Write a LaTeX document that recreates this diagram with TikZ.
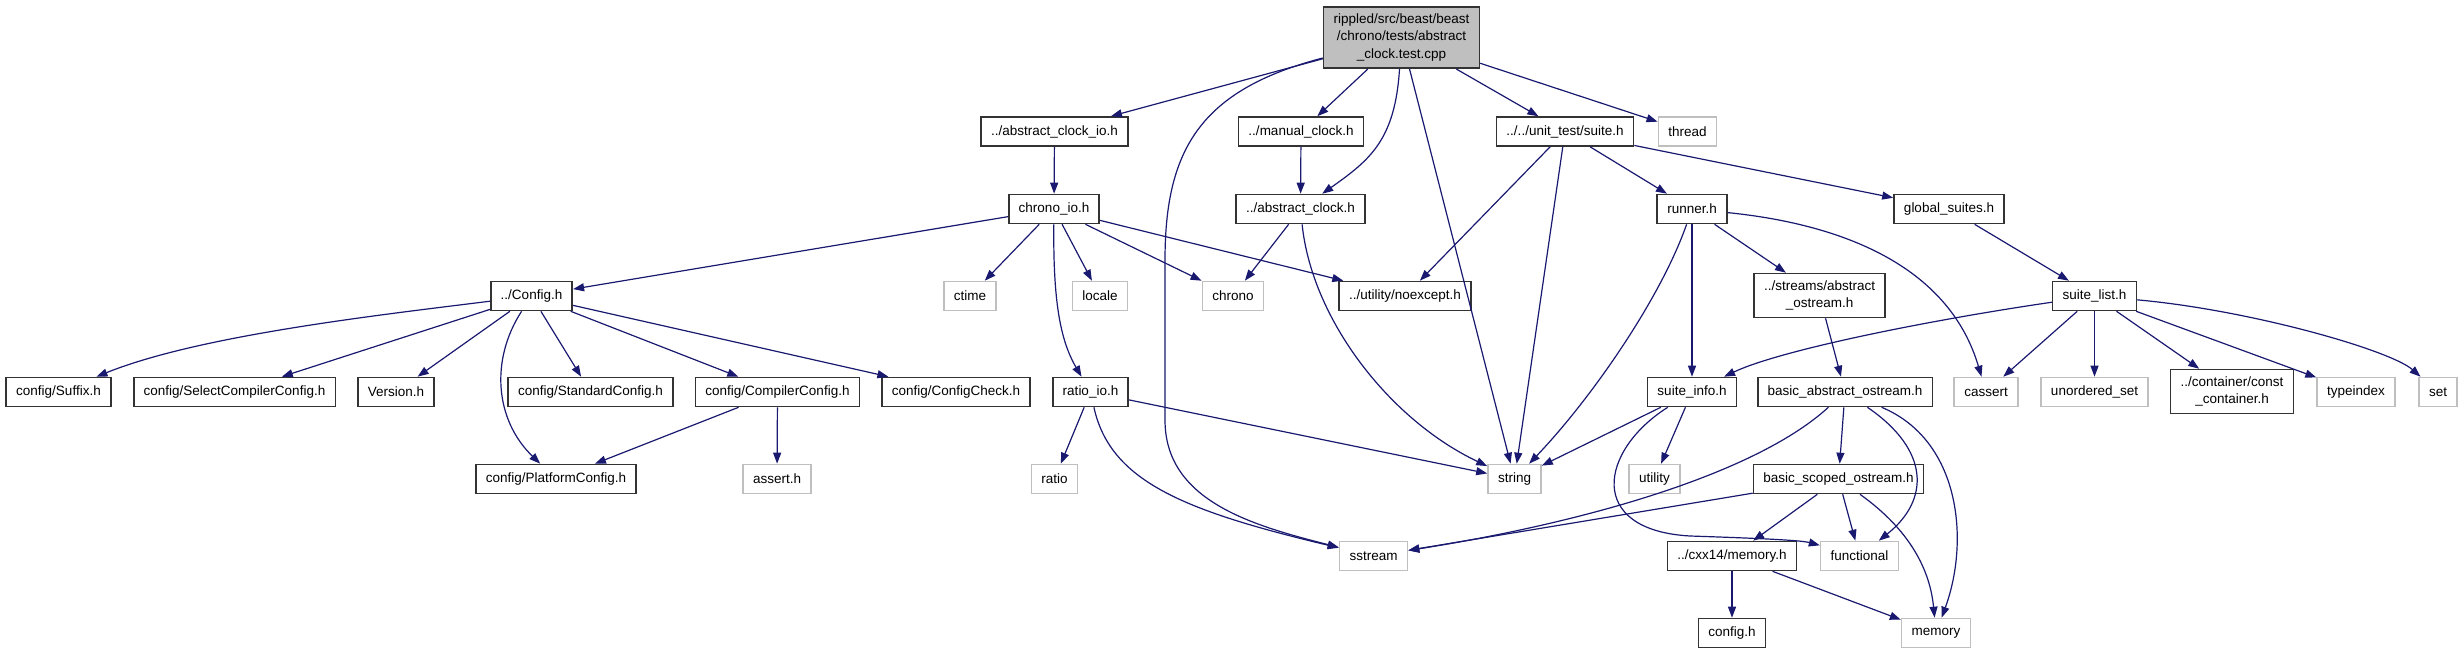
\documentclass[tikz,border=0pt]{standalone}
\usepackage{fontspec}
\setmainfont{Liberation Sans}
\usetikzlibrary{arrows.meta}
\definecolor{edgeblue}{HTML}{191970}
\definecolor{boxgray}{HTML}{BFBFBF}
\begin{document}
\begin{tikzpicture}[x=1pt,y=-1pt,>={Triangle[length=11pt,width=8pt]},
	font=\fontsize{13.5}{17.5}\selectfont,
	incl/.style={draw=black!80,line width=1.6pt,fill=white,inner xsep=10pt,inner ysep=7pt,minimum height=29pt,align=center},
	sysincl/.style={incl,draw=boxgray},
	srcfile/.style={incl,fill=boxgray},
	dep/.style={->,draw=edgeblue,line width=1.2pt}]
	\useasboundingbox (0,0) rectangle (2464,653);
	\node[srcfile] (main) at (1401.5,37.5) {rippled/src/beast/beast\\/chrono/tests/abstract\\\_clock.test.cpp};
	\node[incl] (aclockio) at (1054.5,131.5) {../abstract\_clock\_io.h};
	\node[incl] (manclock) at (1301,131.5) {../manual\_clock.h};
	\node[incl] (suite) at (1565,131.5) {../../unit\_test/suite.h};
	\node[sysincl] (thread) at (1687.5,131.5) {thread};
	\node[incl] (chronoio) at (1054,209) {chrono\_io.h};
	\node[incl] (aclock) at (1300.5,209) {../abstract\_clock.h};
	\node[incl] (runner) at (1692,209) {runner.h};
	\node[incl] (gsuites) at (1949,209) {global\_suites.h};
	\node[incl] (config) at (531.5,296) {../Config.h};
	\node[sysincl] (ctime) at (970,296) {ctime};
	\node[sysincl] (locale) at (1100,296) {locale};
	\node[sysincl] (chrono) at (1233,296) {chrono};
	\node[incl] (noexcept) at (1405,296) {../utility/noexcept.h};
	\node[incl] (aostream) at (1819.5,295.5) {../streams/abstract\\\_ostream.h};
	\node[incl] (suitelist) at (2094.5,296) {suite\_list.h};
	\node[incl] (suffix) at (58.5,392) {config/Suffix.h};
	\node[incl] (selcc) at (234.5,392) {config/SelectCompilerConfig.h};
	\node[incl] (version) at (396,392) {Version.h};
	\node[incl] (stdcfg) at (590.5,392) {config/StandardConfig.h};
	\node[incl] (compcfg) at (777.5,392) {config/CompilerConfig.h};
	\node[incl] (cfgcheck) at (956,392) {config/ConfigCheck.h};
	\node[incl] (ratioio) at (1090.5,392) {ratio\_io.h};
	\node[incl] (suiteinfo) at (1692,392) {suite\_info.h};
	\node[incl] (baostream) at (1845,392) {basic\_abstract\_ostream.h};
	\node[sysincl] (cassert) at (1986,392) {cassert};
	\node[sysincl] (uset) at (2094.5,392) {unordered\_set};
	\node[incl] (constc) at (2232,391.5) {../container/const\\\_container.h};
	\node[sysincl] (typeindex) at (2356,392) {typeindex};
	\node[sysincl] (hset) at (2438,392) {set};
	\node[incl] (platcfg) at (556,479) {config/PlatformConfig.h};
	\node[sysincl] (asserth) at (777,479) {assert.h};
	\node[sysincl] (ratio) at (1054.5,479) {ratio};
	\node[sysincl] (strh) at (1514.5,479) {string};
	\node[sysincl] (utility) at (1654.5,479) {utility};
	\node[incl] (bsostream) at (1838.5,479) {basic\_scoped\_ostream.h};
	\node[sysincl] (sstream) at (1373.5,556) {sstream};
	\node[incl] (cxxmem) at (1732,556) {../cxx14/memory.h};
	\node[sysincl] (functional) at (1859.5,556) {functional};
	\node[incl] (configh) at (1732,633) {config.h};
	\node[sysincl] (memory) at (1936,633) {memory};

	\draw[dep] (main) -- (aclockio);
	\draw[dep] (main) -- (manclock);
	\draw[dep] (main) .. controls (1395,140) and (1370,160) .. (aclock);
	\draw[dep] (main) .. controls (1200,90) and (1165,150) .. (1165,260) -- (1165,420) .. controls (1165,500) and (1250,525) .. (sstream);
	\draw[dep] (main) -- (strh);
	\draw[dep] (main) -- (suite);
	\draw[dep] (main) -- (thread);
	\draw[dep] (aclockio) -- (chronoio);
	\draw[dep] (manclock) -- (aclock);
	\draw[dep] (suite) -- (noexcept);
	\draw[dep] (suite) -- (strh);
	\draw[dep] (suite) -- (runner);
	\draw[dep] (suite) -- (gsuites);
	\draw[dep] (chronoio) -- (config);
	\draw[dep] (chronoio) -- (ctime);
	\draw[dep] (chronoio) -- (locale);
	\draw[dep] (chronoio) -- (chrono);
	\draw[dep] (chronoio) -- (noexcept);
	\draw[dep] (chronoio) .. controls (1053,300) and (1060,340) .. (ratioio);
	\draw[dep] (aclock) -- (chrono);
	\draw[dep] (aclock) .. controls (1312,320) and (1390,420) .. (strh);
	\draw[dep] (runner) -- (suiteinfo);
	\draw[dep] (runner) -- (aostream);
	\draw[dep] (runner) .. controls (1850,225) and (1950,270) .. (cassert);
	\draw[dep] (runner) .. controls (1660,300) and (1590,400) .. (strh);
	\draw[dep] (gsuites) -- (suitelist);
	\draw[dep] (config) .. controls (380,315) and (200,335) .. (suffix);
	\draw[dep] (config) -- (selcc);
	\draw[dep] (config) -- (version);
	\draw[dep] (config) .. controls (490,360) and (495,420) .. (platcfg);
	\draw[dep] (config) -- (stdcfg);
	\draw[dep] (config) -- (compcfg);
	\draw[dep] (config) -- (cfgcheck);
	\draw[dep] (compcfg) -- (platcfg);
	\draw[dep] (compcfg) -- (asserth);
	\draw[dep] (ratioio) -- (ratio);
	\draw[dep] (ratioio) -- (strh);
	\draw[dep] (ratioio) .. controls (1110,480) and (1180,510) .. (sstream);
	\draw[dep] (aostream) -- (baostream);
	\draw[dep] (suitelist) .. controls (1930,320) and (1780,350) .. (suiteinfo);
	\draw[dep] (suitelist) -- (cassert);
	\draw[dep] (suitelist) -- (uset);
	\draw[dep] (suitelist) -- (constc);
	\draw[dep] (suitelist) -- (typeindex);
	\draw[dep] (suitelist) .. controls (2250,310) and (2390,350) .. (hset);
	\draw[dep] (suiteinfo) -- (strh);
	\draw[dep] (suiteinfo) -- (utility);
	\draw[dep] (suiteinfo) .. controls (1600,450) and (1585,530) .. (1690,536) .. controls (1750,538) and (1800,540) .. (functional);
	\draw[dep] (baostream) .. controls (1760,470) and (1600,520) .. (sstream);
	\draw[dep] (baostream) -- (bsostream);
	\draw[dep] (baostream) .. controls (1930,450) and (1930,500) .. (functional);
	\draw[dep] (baostream) .. controls (1960,440) and (1970,540) .. (memory);
	\draw[dep] (bsostream) -- (sstream);
	\draw[dep] (bsostream) -- (cxxmem);
	\draw[dep] (bsostream) -- (functional);
	\draw[dep] (bsostream) .. controls (1910,530) and (1930,570) .. (memory);
	\draw[dep] (cxxmem) -- (configh);
	\draw[dep] (cxxmem) -- (memory);
\end{tikzpicture}
\end{document}
